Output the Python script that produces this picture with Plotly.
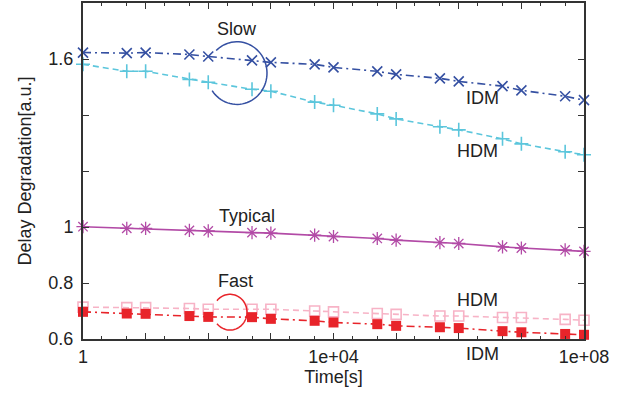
import plotly.graph_objects as go
import numpy as np

# ---- data ----
time_s = [1, 5, 10, 50, 100, 500, 1e3, 5e3, 1e4, 5e4, 1e5, 5e5, 1e6, 5e6, 1e7, 5e7, 1e8]
slow_idm = [1.623, 1.621, 1.623, 1.616, 1.609, 1.595, 1.588, 1.581, 1.570, 1.556, 1.545, 1.531, 1.520, 1.503, 1.488, 1.467, 1.453]
slow_hdm = [1.581, 1.556, 1.556, 1.527, 1.517, 1.492, 1.485, 1.446, 1.435, 1.404, 1.386, 1.358, 1.347, 1.315, 1.297, 1.269, 1.258]
typical = [1.001, 0.995, 0.995, 0.988, 0.986, 0.980, 0.978, 0.971, 0.966, 0.959, 0.953, 0.944, 0.941, 0.929, 0.925, 0.918, 0.913]
fast_hdm = [0.714, 0.712, 0.712, 0.709, 0.706, 0.706, 0.706, 0.700, 0.697, 0.691, 0.688, 0.682, 0.682, 0.677, 0.677, 0.670, 0.667]
fast_idm = [0.697, 0.691, 0.690, 0.682, 0.679, 0.678, 0.672, 0.665, 0.659, 0.653, 0.647, 0.642, 0.639, 0.628, 0.624, 0.618, 0.615]

x_tickvals = [1, 10, 100, 1e3, 1e4, 1e5, 1e6, 1e7, 1e8]
x_ticktext = ["1", "", "", "", "1e+04", "", "", "", "1e+08"]
y_tickvals = [0.6, 0.8, 1.0, 1.2, 1.4, 1.6]
y_ticktext = ["0.6", "0.8", "1", "", "", "1.6"]

# ---- layout geometry (pixels) ----
W, H = 629, 396
L, R, T, B = 83, 45, 1, 57
PW, PH = W - L - R, H - T - B

def px2paper(px, py):
    return (px - L) / PW, (H - B - py) / PH

FONT = "Liberation Sans, Arial, sans-serif"
TXT = "#222222"
FS = 18

fig = go.Figure()

def add(y, color, dash, symbol, size, lw=1.6, mlw=1.5):
    marker = dict(symbol=symbol, size=size, color=color,
                  line=dict(color=color, width=mlw))
    fig.add_trace(go.Scatter(x=time_s, y=y, mode="lines+markers",
                             line=dict(color=color, width=lw, dash=dash),
                             marker=marker, showlegend=False, cliponaxis=False))

DASHDOT = "8px,4px,2px,4px"
DASH = "6px,4px"
add(slow_hdm, "#5cc6dc", DASH, "cross-thin", 10, mlw=1.6)
add(slow_idm, "#3550a2", DASHDOT, "x-thin", 10, mlw=1.6)
add(typical, "#b24aa6", "solid", "asterisk", 11, mlw=1.3)
add(fast_hdm, "#f7b3c6", DASH, "square-open", 10, mlw=1.6)
add(fast_idm, "#e8242a", DASHDOT, "square", 10, mlw=0)

# arcs (open on left side)
def arc_path(cx, cy, rx, ry, a0, a1, n=60):
    pts = []
    for a in np.linspace(np.radians(a0), np.radians(a1), n):
        px = cx + rx * np.cos(a)
        py = cy + ry * np.sin(a)
        pts.append(px2paper(px, py))
    return "M " + " L ".join(f"{x:.5f},{y:.5f}" for x, y in pts)

fig.add_shape(type="path", xref="paper", yref="paper",
              path=arc_path(237, 71.5, 30, 31.5, -134, 146),
              line=dict(color="#3550a2", width=1.5))
fig.add_shape(type="path", xref="paper", yref="paper",
              path=arc_path(230, 312, 17, 18, -140, 140),
              line=dict(color="#e8242a", width=1.5))

def label(text, px, py, size=FS):
    x, y = px2paper(px, py)
    fig.add_annotation(text=text, x=x, y=y, xref="paper", yref="paper",
                       showarrow=False, xanchor="center", yanchor="middle",
                       font=dict(family=FONT, size=size, color=TXT))

label("Slow", 237, 27)
label("IDM", 482, 97)
label("HDM", 477, 150)
label("Typical", 247, 215)
label("Fast", 235, 281)
label("HDM", 477, 300)
label("IDM", 482, 354)

axis_common = dict(showline=True, linecolor="#333333", linewidth=2, mirror="ticks",
                   ticks="inside", tickcolor="#333333", tickwidth=1, ticklen=6,
                   showgrid=False, zeroline=False,
                   tickfont=dict(family=FONT, size=FS, color=TXT))

fig.update_xaxes(type="log", range=[0, 8], tickvals=x_tickvals, ticktext=x_ticktext,
                 minor=dict(ticks="inside", ticklen=3, tickcolor="#333333", dtick="D2",
                            showgrid=False),
                 title=dict(text="Time[s]", font=dict(family=FONT, size=FS, color=TXT),
                            standoff=2),
                 **axis_common)
fig.update_yaxes(range=[0.6, 1.8], tickvals=y_tickvals, ticktext=y_ticktext,
                 ticklabelstandoff=4,
                 title=dict(text="Delay Degradation[a.u.]",
                            font=dict(family=FONT, size=FS, color=TXT), standoff=12),
                 **axis_common)

fig.update_layout(width=W, height=H, margin=dict(l=L, r=R, t=T, b=B),
                  paper_bgcolor="white", plot_bgcolor="white",
                  font=dict(family=FONT, color=TXT))

fig.write_html("out.html")
